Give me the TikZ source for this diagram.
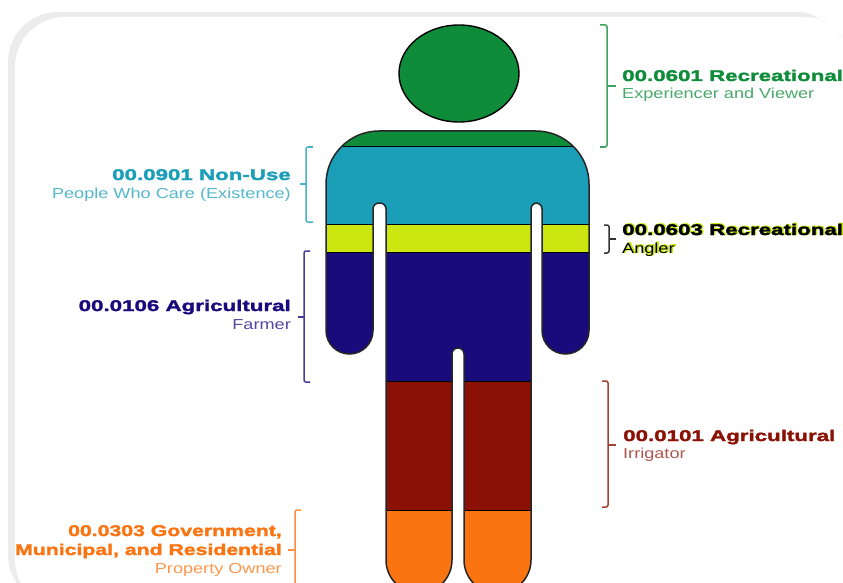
\documentclass[tikz,border=0pt]{standalone}
\usepackage{fontspec}
\setmainfont{Liberation Sans}
\newfontfamily\titlefont[FakeStretch=1.44,FakeBold=2]{Liberation Sans Bold}
\newfontfamily\govfont[FakeStretch=1.37,FakeBold=2]{Liberation Sans Bold}
\newfontfamily\subfont[FakeStretch=1.25]{Liberation Sans}
\newfontfamily\titleglow[FakeStretch=1.44,FakeBold=8]{Liberation Sans Bold}
\newfontfamily\subglow[FakeStretch=1.25,FakeBold=8]{Liberation Sans}
\usetikzlibrary{positioning}
\definecolor{colgreen}{HTML}{0E8C3A}
\definecolor{colteal}{HTML}{1B9FB8}
\definecolor{colyellow}{HTML}{CCE60F}
\definecolor{colnavy}{HTML}{1A0B7C}
\definecolor{colred}{HTML}{8B1105}
\definecolor{colorange}{HTML}{FB7412}
\definecolor{colframe}{HTML}{ECECEC}
\def\personpath{(326,300) [rounded corners=53pt] -- (326,131) -- (589,131) [rounded corners=23.5pt] -- (589,354) -- (542,354) [rounded corners=6pt] -- (542,203) -- (531,203) [rounded corners=33pt] -- (531,593) -- (464,593) [rounded corners=6pt] -- (464,348) -- (452,348) [rounded corners=33pt] -- (452,593) -- (386,593) [rounded corners=6pt] -- (386,203) -- (373,203) [rounded corners=23.5pt] -- (373,354) -- (326,354) -- cycle}
\newcommand{\glowtitle}[1]{\rlap{\kern1pt\raisebox{0.5pt}{\titleglow\color{colyellow}#1}}#1}
\newcommand{\glowsub}[1]{\rlap{\kern1pt\raisebox{0.5pt}{\subglow\color{colyellow}#1}}#1}
\tikzset{
  bandline/.style={black,line width=1pt},
  bracketline/.style={line width=1.5pt,rounded corners=2pt},
  title/.style={inner sep=0pt,font=\titlefont\fontsize{15.5}{18}\selectfont},
  sub/.style={inner sep=0pt,font=\subfont\fontsize{14.5}{18}\selectfont}
}
\begin{document}
\begin{tikzpicture}[x=1pt,y=-1pt]
    \useasboundingbox (0,0) rectangle (843,583);
    % frame
    \begin{scope}
      \clip (0,0) rectangle (800,583);
      \fill[colframe,rounded corners=50pt] (8,12) rectangle (860,605);
      \fill[white,rounded corners=50pt] (15,17) rectangle (858,610);
    \end{scope}
    \fill[colframe] (800,12) .. controls (808,12.5) and (814,15) .. (820,19) .. controls (814,17.5) and (808,17) .. (800,17) -- cycle;
    \draw[colframe!35,line width=1pt] (820,19) .. controls (828,24) and (836,30) .. (843,38);
    % head
    \filldraw[fill=colgreen,draw=black,line width=1.4pt] (459,73.5) ellipse (60pt and 48.5pt);
    % body
    \begin{scope}
      \clip \personpath;
      \fill[colgreen] (320,125) rectangle (595,147);
      \fill[colteal] (320,147) rectangle (595,224);
      \fill[colyellow] (320,224) rectangle (595,252);
      \fill[colnavy] (320,252) rectangle (595,381);
      \fill[colred] (320,381) rectangle (595,510);
      \fill[colorange] (320,510) rectangle (595,600);
      \draw[bandline] (320,147) -- (595,147);
      \draw[bandline] (320,224) -- (595,224);
      \draw[bandline] (320,252) -- (595,252);
      \draw[bandline] (320,381) -- (595,381);
      \draw[bandline] (320,510) -- (595,510);
    \end{scope}
    \draw[black!85,line width=1.5pt] \personpath;
    % brackets
    \draw[bracketline,colgreen!80] (600,25) -- (607,25) -- (607,147) -- (600,147);
    \draw[bracketline,colgreen!80] (607,86) -- (616,86);
    \draw[bracketline,black!80] (604,225) -- (609,225) -- (609,253) -- (604,253);
    \draw[bracketline,black!80] (609,239) -- (616,239);
    \draw[bracketline,colred!80] (602,381) -- (608,381) -- (608,507) -- (602,507);
    \draw[bracketline,colred!80] (608,445) -- (616,445);
    \draw[bracketline,colteal!80] (313,147) -- (306,147) -- (306,222) -- (313,222);
    \draw[bracketline,colteal!80] (306,184) -- (300,184);
    \draw[bracketline,colnavy!80] (310,251) -- (304,251) -- (304,382) -- (310,382);
    \draw[bracketline,colnavy!80] (304,317) -- (298,317);
    \draw[bracketline,colorange!80] (301,510) -- (295,510) -- (295,590);
    \draw[bracketline,colorange!80] (295,550) -- (288,550);
    % labels
    \node[title,anchor=base west,text=colgreen] (viewer) at (622,81) {00.0601 Recreational};
    \node[sub,anchor=base west,text=colgreen!75] (viewersub) at (622,99) {Experiencer and Viewer};
    \node[title,anchor=base west,text=black] (angler) at (622,235) {\glowtitle{00.0603 Recreational}};
    \node[sub,anchor=base west,text=black] (anglersub) at (622,253) {\glowsub{Angler}};
    \node[title,anchor=base west,text=colred] (irrigator) at (623,441) {00.0101 Agricultural};
    \node[sub,anchor=base west,text=colred!70] (irrigatorsub) at (623,458) {Irrigator};
    \node[title,anchor=base east,text=colteal] (nonuse) at (291,180) {00.0901 Non-Use};
    \node[sub,anchor=base east,text=colteal!75] (nonusesub) at (291,198) {People Who Care (Existence)};
    \node[title,anchor=base east,text=colnavy] (farmer) at (291,311) {00.0106 Agricultural};
    \node[sub,anchor=base east,text=colnavy!75] (farmersub) at (291,329) {Farmer};
    \node[title,font=\govfont\fontsize{15.5}{18}\selectfont,anchor=base east,text=colorange] (gov) at (282,536) {00.0303 Government,};
    \node[title,font=\govfont\fontsize{15.5}{18}\selectfont,anchor=base east,text=colorange] (gov2) at (282,555) {Municipal, and Residential};
    \node[sub,anchor=base east,text=colorange!75] (owner) at (282,573) {Property Owner};
\end{tikzpicture}
\end{document}
